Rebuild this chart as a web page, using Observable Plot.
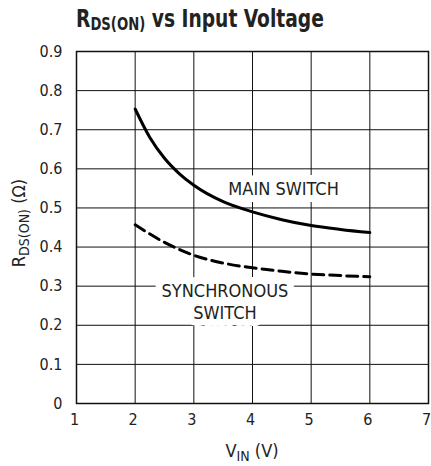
<!DOCTYPE html>
<html>
<head>
<meta charset="utf-8">
<script src="https://cdn.jsdelivr.net/npm/d3@7"></script>
<script src="https://cdn.jsdelivr.net/npm/@observablehq/plot@0.6"></script>
<style>
  html, body { margin: 0; padding: 0; background: #fff; }
  #chart svg { display: block; }
  #chart svg text { font-stretch: condensed; }
</style>
</head>
<body>
<div id="chart"></div>
<script>
// Data
const mainVin = [2, 2.25, 2.5, 2.75, 3, 3.5, 4, 4.5, 5, 5.5, 6];
const mainRds = [0.753, 0.680, 0.627, 0.588, 0.558, 0.516, 0.490, 0.470, 0.455, 0.445, 0.437];
const syncVin = [2, 2.5, 3, 3.5, 4, 4.5, 5, 5.5, 6];
const syncRds = [0.457, 0.412, 0.379, 0.359, 0.347, 0.338, 0.331, 0.327, 0.324];
const xTicks = [1, 2, 3, 4, 5, 6, 7];
const xTickLabels = ["1", "2", "3", "4", "5", "6", "7"];
const yTicks = [0, 0.1, 0.2, 0.3, 0.4, 0.5, 0.6, 0.7, 0.8, 0.9];
const yTickLabels = ["0", "0.1", "0.2", "0.3", "0.4", "0.5", "0.6", "0.7", "0.8", "0.9"];
const labelText = ["MAIN SWITCH", "SYNCHRONOUS\nSWITCH"];
const labelX = [4.53, 3.53];
const labelY = [0.552, 0.262];

const mainData = mainVin.map((v, i) => ({x: v, y: mainRds[i]}));
const syncData = syncVin.map((v, i) => ({x: v, y: syncRds[i]}));
const labels = labelText.map((t, i) => ({text: t, x: labelX[i], y: labelY[i]}));

const FONT = "'Liberation Sans Narrow', 'DejaVu Sans Condensed', 'DejaVu Sans', sans-serif";
const lookup = (ticks, labs) => d => labs[ticks.findIndex(t => Math.abs(t - d) < 1e-9)];

const chart = Plot.plot({
  width: 431,
  height: 466,
  marginLeft: 76,
  marginRight: 3,
  marginTop: 51,
  marginBottom: 63,
  style: {fontFamily: FONT, fontSize: "16px", color: "#222", background: "#fff"},
  x: {domain: [1, 7], ticks: xTicks, tickSize: 0, label: null,
      tickFormat: lookup(xTicks, xTickLabels)},
  y: {domain: [0, 0.9], ticks: yTicks, tickSize: 0, tickPadding: 14, label: null,
      tickFormat: lookup(yTicks, yTickLabels)},
  marks: [
    Plot.gridX(xTicks.slice(1, -1), {stroke: "#111", strokeOpacity: 1, strokeWidth: 1}),
    Plot.gridY(yTicks.slice(1, -1), {stroke: "#111", strokeOpacity: 1, strokeWidth: 1}),
    Plot.frame({stroke: "#111", strokeWidth: 1.5}),
    Plot.axisX(xTicks, {tickSize: 0, tickPadding: 10, dx: -2, label: null,
      tickFormat: lookup(xTicks, xTickLabels)}),
    Plot.text(labels, {x: "x", y: "y", text: "text", fontSize: 18, lineHeight: 1.2,
      fill: "#222", stroke: "white", strokeWidth: 14, strokeLinejoin: "round", paintOrder: "stroke"}),
    Plot.line(mainData, {x: "x", y: "y", curve: "monotone-x", stroke: "black", strokeWidth: 3}),
    Plot.line(syncData, {x: "x", y: "y", curve: "monotone-x", stroke: "black", strokeWidth: 3, strokeDasharray: "11,6"})
  ]
});

const svg = d3.select(chart);
const xs = chart.scale("x"), ys = chart.scale("y");

// Title
const title = svg.append("text")
  .attr("transform", "translate(76,27) scale(0.865,1)").attr("text-anchor", "start")
  .attr("font-family", FONT).attr("font-weight", "bold").attr("font-size", 24).attr("fill", "#222");
title.append("tspan").text("R");
title.append("tspan").attr("font-size", 17).attr("dy", 3).text("DS(ON)");
title.append("tspan").attr("dy", -3).text(" vs Input Voltage");

// X axis label
const xl = svg.append("text")
  .attr("x", xs.apply(4)).attr("y", 457).attr("text-anchor", "middle")
  .attr("font-family", FONT).attr("font-size", 18).attr("fill", "#222");
xl.append("tspan").text("V");
xl.append("tspan").attr("font-size", 14).attr("dy", 4).text("IN");
xl.append("tspan").attr("dy", -4).text(" (V)");

// Y axis label
const yl = svg.append("text")
  .attr("transform", `translate(25, 223) rotate(-90)`)
  .attr("text-anchor", "middle")
  .attr("font-family", FONT).attr("font-size", 18).attr("fill", "#222");
yl.append("tspan").text("R");
yl.append("tspan").attr("font-size", 14).attr("dy", 4).text("DS(ON)");
yl.append("tspan").attr("dy", -4).text(" (Ω)");

document.getElementById("chart").appendChild(chart);
</script>
</body>
</html>
